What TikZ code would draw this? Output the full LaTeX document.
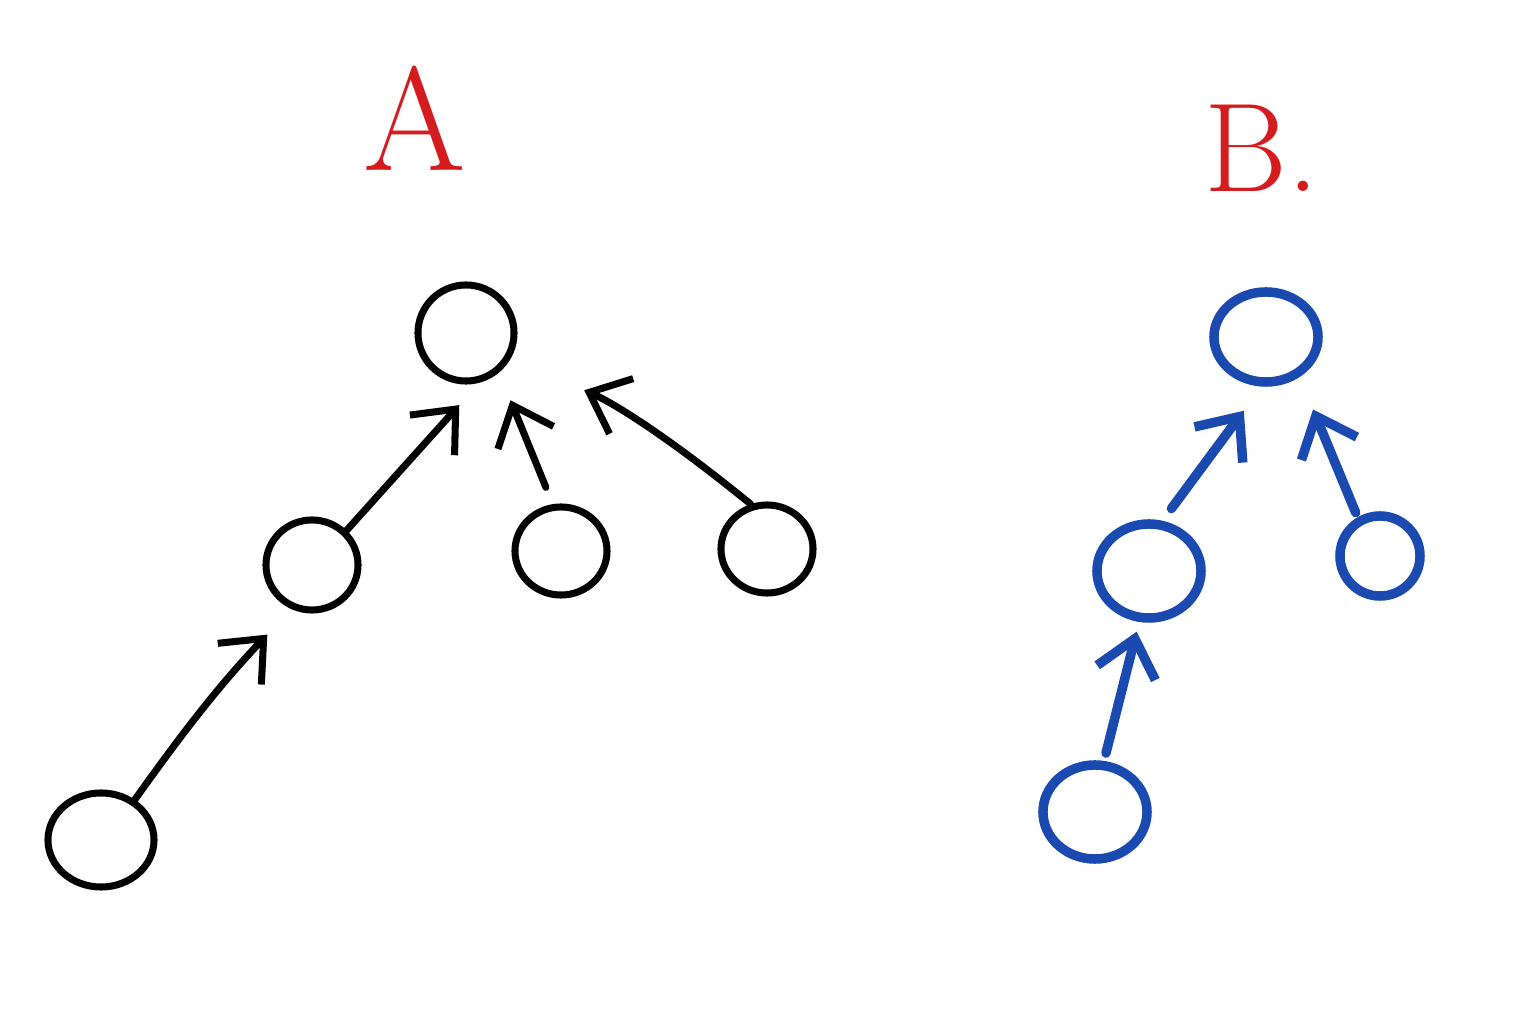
\documentclass[tikz,border=0pt]{standalone}
\usepackage{tikz}
\usetikzlibrary{arrows.meta,shapes.geometric}
\definecolor{akairo}{RGB}{212,28,30}
\definecolor{aoiro}{RGB}{26,74,176}

\tikzset{
  vert/.style={draw, ellipse, inner sep=0pt, line width=2pt},
  arr/.style={-{Straight Barb[length=3.5mm,width=6mm]}, line width=2pt, line cap=round},
  bvert/.style={vert, draw=aoiro, line width=2.7pt},
  barr/.style={arr, draw=aoiro, line width=2.7pt},
}

\begin{document}
\begin{tikzpicture}[x=0.01cm, y=-0.01cm]
        \useasboundingbox (0,0) rectangle (1514,1031);
        % tree A
        \node[akairo, font=\fontsize{42}{46}\selectfont] (tA) at (415,118) {A};
        \node[vert, minimum width=0.96cm, minimum height=0.96cm] (a0) at (466,333) {};
        \node[vert, minimum width=0.92cm, minimum height=0.9cm] (a1) at (312,565) {};
        \node[vert, minimum width=0.92cm, minimum height=0.88cm] (a2) at (561,551) {};
        \node[vert, minimum width=0.92cm, minimum height=0.88cm] (a3) at (767,549) {};
        \node[vert, minimum width=1.06cm, minimum height=0.94cm] (a4) at (101,840) {};

        \path[draw, arr, shorten >=0.3cm](a1.45)to(a0.285);
        \path[draw, arr, shorten <=0.18cm, shorten >=0.3cm](a2.100)to(a0.310);
        \path[draw, arr, shorten >=0.8cm](a3.110)to[bend right=8](a0.330);
        \path[draw, arr, shorten >=0.35cm](a4.50)to[bend left=4](a1.245);

        % tree B
        \node[akairo, font=\fontsize{36}{40}\selectfont] (tB) at (1262,148) {B.};
        \node[bvert, minimum width=1.04cm, minimum height=0.9cm] (b0) at (1266,337) {};
        \node[bvert, minimum width=1.04cm, minimum height=0.94cm] (b1) at (1149,571) {};
        \node[bvert, minimum width=0.8cm, minimum height=0.8cm] (b2) at (1380,556) {};
        \node[bvert, minimum width=1.04cm, minimum height=0.94cm] (b3) at (1095,812) {};

        \path[draw, barr, shorten <=0.15cm, shorten >=0.3cm](b1.75)to(b0.265);
        \path[draw, barr, shorten <=0.05cm, shorten >=0.35cm](b2.120)to(b0.310);
        \path[draw, barr, shorten <=0.08cm, shorten >=0.1cm](b3.80)to(b1.259);
    \end{tikzpicture}
\end{document}
